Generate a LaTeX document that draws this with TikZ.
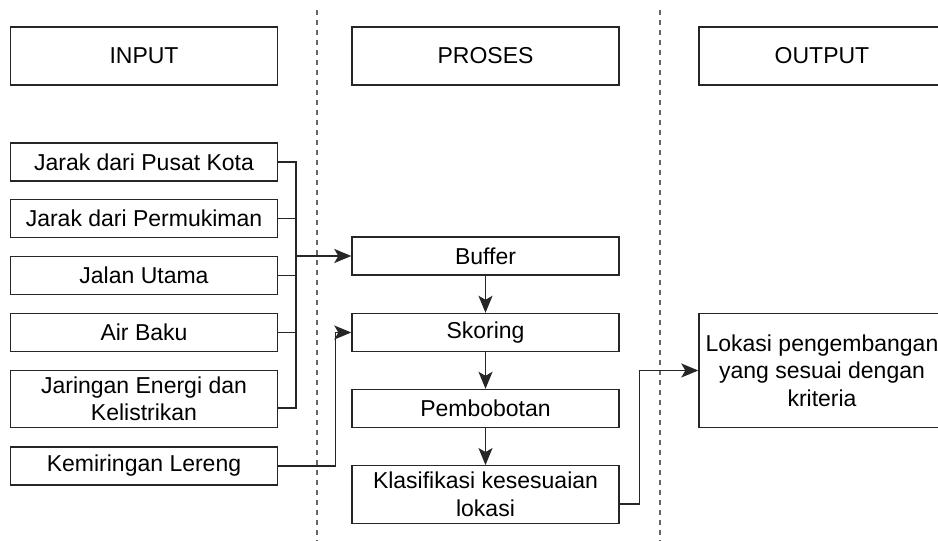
\documentclass[tikz,border=0pt]{standalone}
\usepackage{fontspec}
\setmainfont{Liberation Sans}
\usepackage{tikz}
\usetikzlibrary{arrows.meta}
\tikzset{basic/.style={draw=black!85,line width=1.4pt,fill=white,
                       align=center,minimum width=267pt,minimum height=38pt,inner sep=2pt}}
\tikzset{header/.style={basic,minimum height=58pt}}
\tikzset{inbox/.style={basic}}
\tikzset{procbox/.style={basic}}
\tikzset{outbox/.style={basic,minimum width=246pt}}
\tikzset{divider/.style={draw=black!60,line width=1.6pt,dash pattern=on 5pt off 5pt}}
\tikzset{link/.style={draw=black!85,line width=1.4pt}}
\tikzset{flow/.style={link,arrows={-Stealth[length=17pt,width=14pt,inset=4pt]}}}

\begin{document}
\begin{tikzpicture}[x=1pt,y=-1pt,font=\fontsize{23}{27.5}\selectfont]
    \useasboundingbox (0,0) rectangle (938,541);
    % Column headers
    \node[header] (hin) at (144,56) {INPUT};
    \node[header] (hpro) at (485.5,56) {PROSES};
    \node[header,minimum width=246pt] (hout) at (822,56) {OUTPUT};
    \draw[divider] (317,10) -- (317,541);
    \draw[divider] (660,10) -- (660,541);
    % Inputs
    \foreach \h/\y/\hh [count=\hi] in {Jarak dari Pusat Kota/162/38,
          Jarak dari Permukiman/218.5/38,Jalan Utama/275.5/38,Air Baku/332.5/38,
          {Jaringan Energi dan\\Kelistrikan}/399/57.5,Kemiringan Lereng/466/38}{%
          \node[inbox,minimum height=\hh pt] (f\hi) at (144,\y) {\h};
        }
    % Process
    \node[procbox] (buffer) at (485.5,256) {Buffer};
    \node[procbox] (skor) at (485.5,332.5) {Skoring};
    \node[procbox] (bobot) at (485.5,408.5) {Pembobotan};
    \node[procbox,minimum height=57.5pt] (klas) at (485.5,494.5) {Klasifikasi kesesuaian\\lokasi};
    % Output
    \node[outbox,minimum height=114.5pt] (hasil) at (822,370.5) {Lokasi pengembangan\\yang sesuai dengan\\kriteria};
    % Connectors
    \coordinate (bus) at (296,256);
    \foreach \i in {1,2,3,4}{%
          \draw[link] (f\i.east) -| (bus);
        }
    \draw[link] ([yshift=-9pt]f5.east) -| (bus);
    \draw[flow] (bus) -- (buffer);
    \draw[flow] (f6.east) -- ++(57,0) |- (skor.west);
    \draw[flow] (buffer) -- (skor);
    \draw[flow] (skor) -- (bobot);
    \draw[flow] (bobot) -- (klas);
    \draw[flow] ([yshift=-9.5pt]klas.east) -- ++(20,0) |- (hasil.west);
\end{tikzpicture}
\end{document}
